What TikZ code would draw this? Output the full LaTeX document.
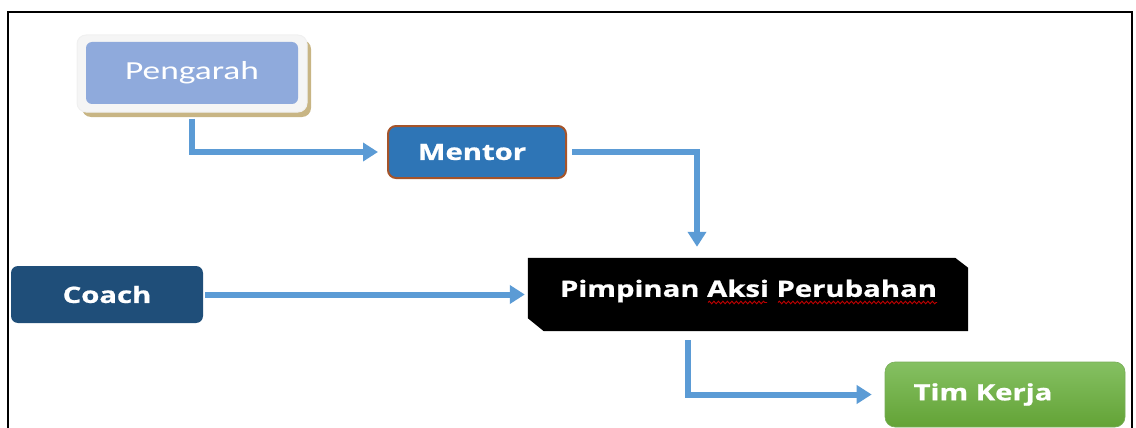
\documentclass[tikz,border=0pt]{standalone}
\usepackage{fontspec}
\setmainfont{Open Sans}
\newfontfamily\calib{Carlito}
\newfontfamily\osb{Open Sans}[UprightFont=* Bold, FakeBold=0.8]
\usetikzlibrary{arrows.meta,decorations.pathmorphing}
\definecolor{arrowblue}{HTML}{5B9BD5}
\definecolor{pengblue}{HTML}{8FAADC}
\definecolor{pengshadow}{HTML}{C8B584}
\definecolor{mentorblue}{HTML}{2E75B6}
\definecolor{mentorbrown}{HTML}{A5542A}
\definecolor{coachblue}{HTML}{1F4E79}
\definecolor{timtop}{HTML}{85C062}
\definecolor{timbottom}{HTML}{63A336}
\tikzset{
  flow/.style={draw=arrowblue, line width=6pt, -{Triangle[length=15pt,width=18pt]}},
  boxtext/.style={text=white, inner sep=0pt, align=center},
  boldtxt/.style={font=\osb\fontsize{22.5}{25}\selectfont},
  wavy/.style={draw=red!75!black, line width=0.9pt, decorate, decoration={snake, amplitude=1.3pt, segment length=4.5pt}},
}
\begin{document}
\begin{tikzpicture}[x=1pt,y=-1pt]
\useasboundingbox (0,0) rectangle (1136,428);
% frame
\draw[line width=2pt, line cap=rect] (8,430) -- (8,12) -- (1132,12) -- (1132,430);

% Pengarah
\fill[pengshadow, rounded corners=9pt] (82,40) rectangle (311,117);
\node (peng) [draw=black!6, line width=1pt, fill=black!4, rounded corners=9pt,
  minimum width=230pt, minimum height=77pt, inner sep=0pt] at (192,73.5) {};
\node (pengin) [fill=pengblue, rounded corners=6pt, minimum width=212pt, minimum height=62pt,
  boxtext, font=\calib\fontsize{26}{29}\selectfont] at (192,73) {\scalebox{1.36}[1]{Pengarah}};

% Mentor
\node (mentor) [fill=mentorblue, draw=mentorbrown, line width=2pt, rounded corners=8pt,
  minimum width=178pt, minimum height=52pt, boxtext, boldtxt] at (477,152)
  {\scalebox{1.3}[1]{Mentor}\hspace{10pt}};

% Coach
\node (coach) [fill=coachblue, rounded corners=7pt, minimum width=192pt, minimum height=57pt,
  boxtext, boldtxt] at (107,294.5) {\scalebox{1.3}[1]{Coach}};

% Pimpinan Aksi Perubahan
\node (pap) [minimum width=440pt, minimum height=73pt, inner sep=0pt] at (748,294.5) {};
\fill[black] (pap.north west) -- ([xshift=-13pt]pap.north east) -- ([yshift=-10pt]pap.north east)
  -- (pap.south east) -- ([xshift=16pt]pap.south west) -- ([yshift=13pt]pap.south west) -- cycle;
\node (paptext) [boxtext, boldtxt] at (748.5,291) {\scalebox{1.3}[1]{Pimpinan Aksi Perubahan}};
\draw[wavy] (708,302.5) -- (767,302.5);
\draw[wavy] (778,302.5) -- (937,302.5);

% Tim Kerja
\node (tim) [top color=timtop, bottom color=timbottom, draw=timtop!90!black, line width=0.6pt,
  rounded corners=10pt, minimum width=240pt, minimum height=65pt, boxtext, boldtxt] at (1005,394.5)
  {\scalebox{1.3}[1]{Tim Kerja}\hspace{44pt}};

% connectors
\draw[flow, shorten <=6pt, shorten >=9pt] (peng.south) |- (mentor.west);
\draw[flow, shorten <=5pt, shorten >=11pt] (mentor.east) -| ([xshift=-51pt]pap.north);
\draw[flow, shorten <=2pt, shorten >=3pt] (coach.east) -- (pap.west);
\draw[flow, shorten <=9pt, shorten >=13pt] ([xshift=-60pt]pap.south) |- (tim.west);
\end{tikzpicture}
\end{document}
